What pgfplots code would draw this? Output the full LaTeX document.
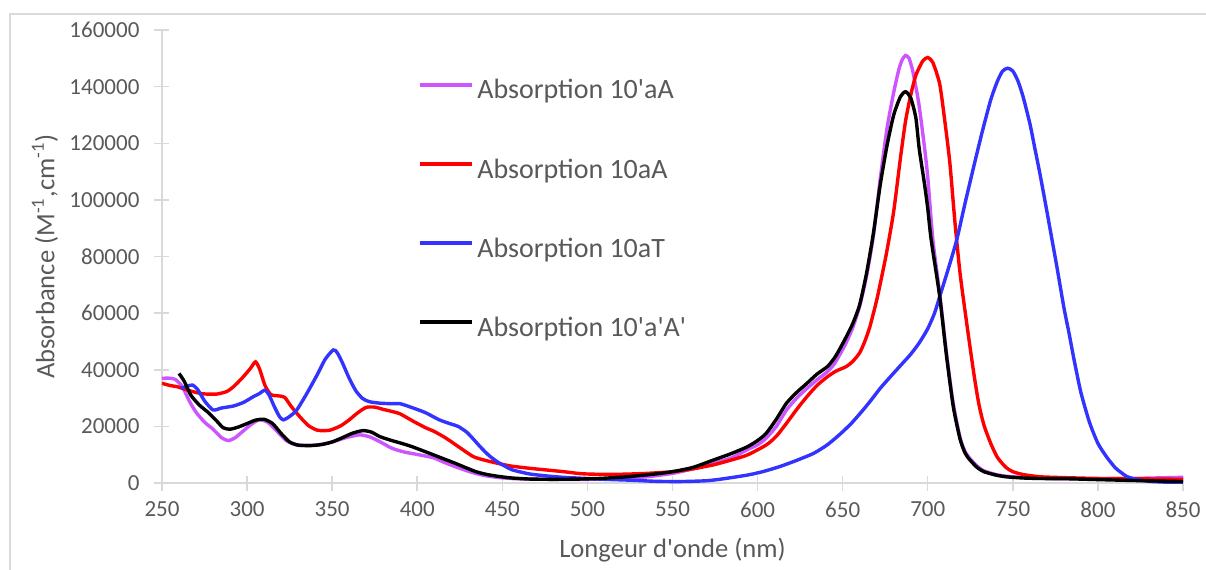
\documentclass[border=0pt]{standalone}
\usepackage{pgfplots}
\pgfplotsset{compat=1.18}
\usepackage{fontspec}
\setmainfont{Carlito}[Ligatures=TeXOff]
\definecolor{txt}{HTML}{595959}
\definecolor{axl}{HTML}{D9D9D9}
\definecolor{cpur}{HTML}{CC55FF}
\definecolor{cred}{HTML}{FF0000}
\definecolor{cblu}{HTML}{3333FF}
\begin{document}
\begin{tikzpicture}
\useasboundingbox (-81pt,-43pt) rectangle (522pt,241.5pt);
\draw[axl, line width=0.6pt] (-76pt,-60pt) rectangle (540pt,234.5pt);
\begin{axis}[
  scale only axis, width=510.5pt, height=226.5pt,
  xmin=250, xmax=850, ymin=0, ymax=160000,
  xtick={250,300,...,850}, ytick={0,20000,...,160000},
  axis lines=left, axis line style={axl, line width=0.75pt, -},
  tick align=center, major tick length=7.5pt,
  tick style={axl, line width=0.75pt},
  /pgf/number format/fixed, /pgf/number format/precision=0,
  /pgf/number format/1000 sep={}, /pgf/number format/assume math mode=true,
  scaled y ticks=false,
  ticklabel style={font=\fontsize{11.5}{13}\selectfont, text=txt},
  yticklabel style={xshift=-4pt},
  xticklabel style={yshift=-2pt},
  xlabel={Longeur d'onde (nm)}, ylabel={Absorbance (M\textsuperscript{-1},cm\textsuperscript{-1})},
  label style={font=\fontsize{13.3}{15}\selectfont, text=txt},
  xlabel style={at={(axis description cs:0.5,-0.148)}, anchor=center},
  ylabel style={at={(axis description cs:-0.1146,0.5)}, anchor=center},
  legend style={at={(0.2507,0.893)}, anchor=north west, draw=none, fill=none, inner sep=0pt,
    font=\fontsize{14}{16}\selectfont, text=txt, row sep=26.6pt, column sep=1.5pt,
    nodes={inner sep=0pt, text height=10pt, text depth=3pt}},
  legend cell align=left,
  legend image code/.code={\draw[#1, line width=2pt] (0pt,3.5pt) -- (26pt,3.5pt);},
  every axis plot/.append style={line width=1.7pt, smooth, tension=0.4},
]
\addplot[cpur] table {
250 37000
255 37000
258 36500
262 34000
266 29000
270 25000
275 21500
280 19000
285 16000
289 15000
293 16000
297 18000
302 20500
307 22300
312 21500
318 18000
323 15000
329 13400
335 13300
342 13500
350 14500
358 16000
366 17000
372 16300
378 14600
385 12300
392 11000
398 10300
405 9500
410 8800
417 7000
425 5200
433 3600
440 2600
447 2000
455 1600
465 1400
480 1300
500 1300
520 1600
535 2200
550 3400
562 5000
574 7000
585 9000
594 11800
600 13500
605 15800
611 20000
617 25800
623 30000
629 33400
635 36500
641 39300
645 42000
648 45000
652 49500
656 55000
660 62500
664 73000
668 87000
672 107000
676 125000
680 138000
683 146000
685 149500
687 151000
689 150000
691 146000
693 140000
695 133000
698 119000
700 108000
703 86000
707 67000
711 46000
715 28000
719 16000
722 11000
725 8500
729 6000
733 4300
740 3000
746 2400
755 2000
765 1700
780 1500
800 1500
820 1600
835 1800
850 2000
};
\addlegendentry{Absorption 10'aA}
\addplot[cred] table {
250 35200
255 34400
259 34000
264 33000
268 32300
274 31500
282 31400
288 32300
292 34000
297 37000
302 40500
305 42800
307.5 40000
310.5 34500
314 31200
318 30800
322 30300
326 27000
331 23400
336 20300
341 18700
345 18500
349 18700
355 20200
360 22300
365 24800
370 26700
375 26800
380 26000
385 25300
390 24400
398 21700
405 19500
410 18200
417 15800
425 12500
433 9300
440 8000
447 7000
455 6000
466 5200
476 4600
486 4000
496 3300
505 3100
520 3100
535 3400
550 4000
562 5000
574 6400
585 8200
594 9900
605 13400
611 16500
617 21100
623 26000
629 30500
635 34500
641 37500
646 39500
652 41100
656 43000
660 46000
663 50000
666 55200
670 64600
673 73000
676 82000
680 96000
684 115000
687 128000
690 137000
693 144000
697 149000
700 150300
703 148500
707 141000
710 128000
713 113000
716 92000
719 74000
723 56000
727 39000
730 28000
733 20500
737 14000
741 9000
746 5500
750 4000
756 3000
766 2200
780 1900
800 1600
820 1500
835 1400
850 1300
};
\addlegendentry{Absorption 10aA}
\addplot[cblu] table {
261 33400
265 34200
268 34600
271 33000
275 29000
280 25800
285 26500
292 27200
298 28500
303.7 30500
307 31500
310.5 32800
313 31000
316 27000
319 23500
321.3 22300
325 23500
329.2 25800
335 31500
341 38000
346 43800
350.7 47000
353 46000
356 42500
360 37000
364 32500
368 29800
372 28700
378 28200
385 28000
390 28000
398 26400
405 24800
413 22300
420 20800
424 20000
429 18000
433 15500
437 12800
442 9800
447 7500
452 5800
456 4600
466 3200
476 2500
486 2000
496 1700
510 1300
525 1000
540 600
554 500
570 800
580 1500
594 2800
603 4000
613 5800
623 8000
633 10500
641 13500
648 17000
655 21000
662 25800
667 29500
672 33400
678 37500
684 41500
690 45500
695 49500
700 54500
704 60000
707 65800
712 75500
717 85800
722 99000
727 111700
732 124000
737 135300
741 142000
744 145500
747 146500
750 145500
753 142000
756 136500
760 127000
763 118000
766 109000
770 96000
773 86000
776 76000
780 62000
783 53000
786 43500
790 32000
795 21500
800 14000
805 9300
810 5500
813 4000
817 2300
823 1200
830 600
840 300
850 200
};
\addlegendentry{Absorption 10aT}
\addplot[black] table {
260 38700
263 36000
267 31000
272 27500
277 25000
282 22000
286 19500
290 19000
295 19800
300 21000
305 22200
310 22500
315 21000
320 17500
325 14500
330 13400
337 13200
344 13600
350 14500
356 16000
362 17600
368 18500
373 18000
378 16400
385 15000
392 13800
398 12600
405 11000
411 9600
417 8200
423 6800
429 5300
435 3900
441 3000
447 2400
455 1800
466 1400
480 1300
496 1400
510 1700
525 2300
540 3200
550 4000
562 5500
574 8100
585 10500
594 12800
600 15000
605 17500
611 22500
617 28200
623 32000
629 35200
635 38500
641 41100
645 44000
648 47000
652 51500
656 56400
660 63000
664 74000
668 88000
672 105000
676 119000
680 130000
684 136500
687 138200
690 136000
693 129000
695 118000
698 106000
700 97000
702 86000
707 66000
711 45000
715 27000
719 15500
722 10500
725 8000
729 5500
733 4000
740 2800
746 2200
755 1800
765 1600
782 1500
800 1200
820 900
835 700
850 500
};
\addlegendentry{Absorption 10'a'A'}
\end{axis}
\end{tikzpicture}
\end{document}
